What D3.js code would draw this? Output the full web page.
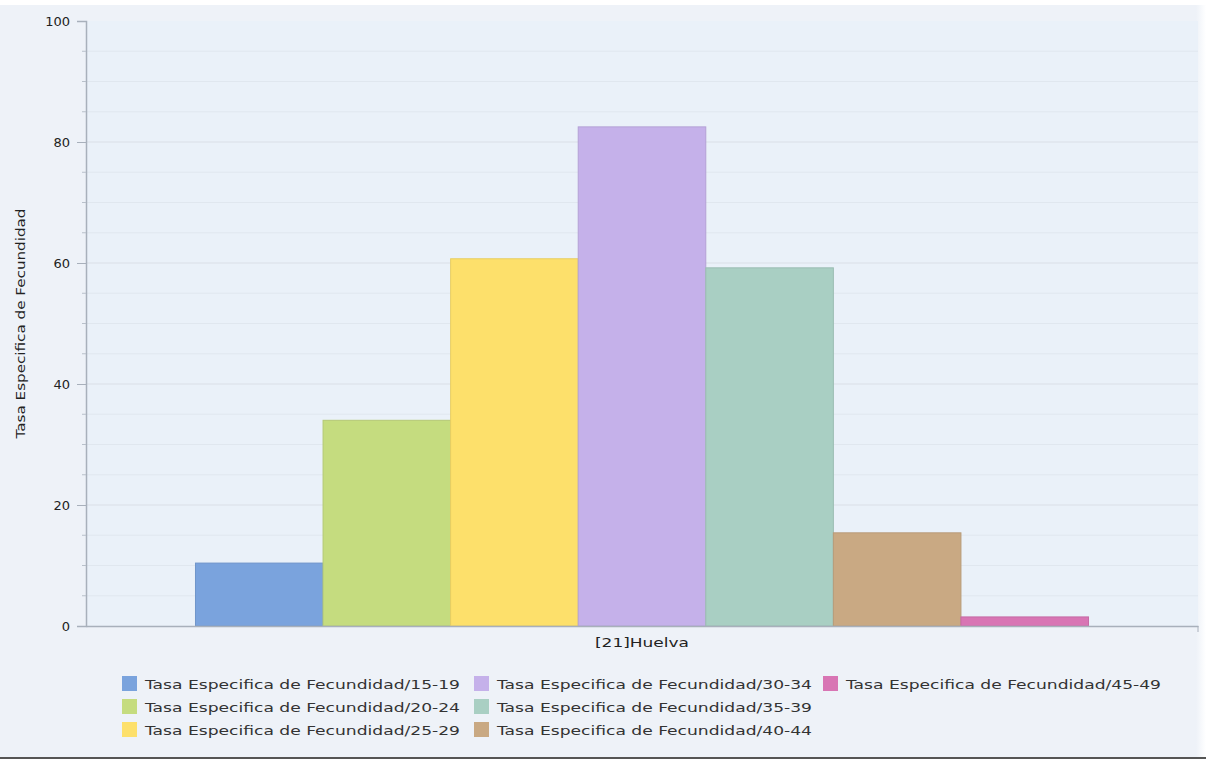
<!DOCTYPE html>
<html>
<head>
<meta charset="utf-8">
<script src="https://cdn.jsdelivr.net/npm/d3@7"></script>
<style>
  html, body { margin: 0; padding: 0; background: #ffffff; }
  svg { display: block; }
  text { font-family: "DejaVu Sans", Verdana, sans-serif; }
</style>
</head>
<body>
<script>
// Age groups and fertility rates for Huelva
const category = "[21]Huelva";
const ageGroups = ["15-19", "20-24", "25-29", "30-34", "35-39", "40-44", "45-49"];
const rates = [10.4, 34.0, 60.7, 82.5, 59.2, 15.4, 1.5];
const seriesColors = ["#7aa3dd", "#c5dc7f", "#fde06b", "#c5b1ea", "#a9cfc3", "#c9a983", "#d875b4"];
const yTicks = [0, 20, 40, 60, 80, 100];
const yTitle = "Tasa Especifica de Fecundidad";
const seriesPrefix = "Tasa Especifica de Fecundidad/";

const W = 1206, H = 760;
const margin = { left: 86, right: 8, top: 21, bottom: 134 };
const plotW = W - margin.left - margin.right;
const plotH = H - margin.top - margin.bottom;

const svg = d3.select("body").append("svg").attr("width", W).attr("height", H);

// page panel with a soft right edge
const defs = svg.append("defs");
const edge = defs.append("linearGradient").attr("id", "edge").attr("x1", 0).attr("x2", 1);
edge.append("stop").attr("offset", 0).attr("stop-color", "#eef2f8");
edge.append("stop").attr("offset", 1).attr("stop-color", "#ffffff");
svg.append("rect").attr("x", 0).attr("y", 5).attr("width", 1196).attr("height", 752).attr("fill", "#eef2f8");
svg.append("rect").attr("x", 1196).attr("y", 5).attr("width", 10).attr("height", 752).attr("fill", "url(#edge)");
svg.append("line").attr("x1", 0).attr("x2", W).attr("y1", 758).attr("y2", 758)
  .attr("stroke", "#555").attr("stroke-width", 2);

const g = svg.append("g").attr("transform", `translate(${margin.left},${margin.top})`);

// plot background
g.append("rect").attr("width", plotW).attr("height", plotH).attr("fill", "#eaf1f9");

const y = d3.scaleLinear().domain([0, 100]).range([plotH, 0]);
const x0 = d3.scaleBand().domain([category]).range([0, plotW]).paddingInner(0).paddingOuter(0.1226);
const x1 = d3.scaleBand().domain(ageGroups).range([0, x0.bandwidth()]).padding(0);

// gridlines every 5 units
g.append("g").selectAll("line").data(d3.range(5, 100, 5))
  .join("line")
  .attr("x1", 0).attr("x2", plotW)
  .attr("y1", d => y(d)).attr("y2", d => y(d))
  .attr("stroke", d => d % 20 === 0 ? "#d9e0e8" : "#e0e7ef")
  .attr("stroke-width", 1.2);

// bars
const bars = g.append("g").attr("transform", `translate(${x0(category)},0)`);
bars.selectAll("rect").data(ageGroups)
  .join("rect")
  .attr("x", d => x1(d))
  .attr("y", (d, i) => y(rates[i]))
  .attr("width", x1.bandwidth())
  .attr("height", (d, i) => y(0) - y(rates[i]))
  .attr("fill", (d, i) => seriesColors[i])
  .attr("stroke", (d, i) => d3.color(seriesColors[i]).darker(0.25))
  .attr("stroke-width", 1);

// y axis
const yAxis = g.append("g")
  .call(d3.axisLeft(y).tickValues(yTicks).tickSize(9).tickPadding(7));
yAxis.select(".domain").attr("stroke", "#a8b0bb").attr("stroke-width", 1.5);
yAxis.selectAll(".tick line").attr("stroke", "#a8b0bb");
yAxis.selectAll(".tick text").attr("font-size", 13).attr("fill", "#222")
  .attr("font-family", "DejaVu Sans, Verdana, sans-serif");

// minor y ticks
g.append("g").selectAll("line").data(d3.range(5, 100, 5).filter(v => v % 20 !== 0))
  .join("line")
  .attr("x1", -4).attr("x2", 0)
  .attr("y1", d => y(d)).attr("y2", d => y(d))
  .attr("stroke", "#b8c0ca");

// x axis
const xAxis = g.append("g").attr("transform", `translate(0,${plotH})`)
  .call(d3.axisBottom(x0).tickSize(0).tickPadding(12));
xAxis.select(".domain").attr("stroke", "#a8b0bb").attr("stroke-width", 1.5);
xAxis.selectAll(".tick text").attr("font-size", 13).attr("fill", "#222")
  .attr("font-family", "DejaVu Sans, Verdana, sans-serif")
  .attr("textLength", 94).attr("lengthAdjust", "spacingAndGlyphs");
g.append("line").attr("x1", plotW).attr("x2", plotW).attr("y1", plotH).attr("y2", plotH + 6)
  .attr("stroke", "#a8b0bb");

// y axis title
svg.append("text")
  .attr("transform", `translate(25,${margin.top + plotH / 2}) rotate(-90)`)
  .attr("text-anchor", "middle")
  .attr("font-size", 13).attr("fill", "#222")
  .attr("textLength", 230).attr("lengthAdjust", "spacingAndGlyphs")
  .text(yTitle);

// legend: 3 columns, filled column by column
const legendCols = [122, 474, 823];
const legendRows = [683, 706, 729];
const legend = svg.append("g");
ageGroups.forEach((ag, i) => {
  const col = Math.floor(i / 3), row = i % 3;
  const lg = legend.append("g").attr("transform", `translate(${legendCols[col]},${legendRows[row]})`);
  lg.append("rect").attr("x", 0).attr("y", -7).attr("width", 15).attr("height", 15)
    .attr("fill", seriesColors[i]);
  lg.append("text").attr("x", 23).attr("y", 1).attr("dy", "0.35em")
    .attr("font-size", 13).attr("fill", "#333")
    .attr("textLength", 315).attr("lengthAdjust", "spacingAndGlyphs")
    .text(seriesPrefix + ag);
});
</script>
</body>
</html>
